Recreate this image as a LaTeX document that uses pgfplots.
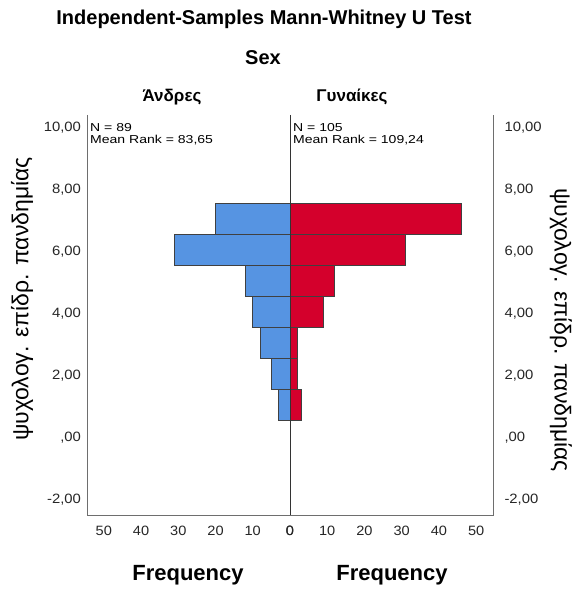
\documentclass[border=0pt]{standalone}
\usepackage{fontspec}
\setmainfont{Liberation Sans}
\usepackage{pgfplots}
\pgfplotsset{compat=1.18}
\definecolor{mblue}{RGB}{86,148,226}
\definecolor{fred}{RGB}{212,0,44}
\definecolor{framegray}{RGB}{110,110,110}
\begin{document}
\begin{tikzpicture}
\path[use as bounding box] (0pt,0pt) rectangle (575pt,589pt);
\pgfplotsset{
  panel/.style={
    scale only axis, width=203pt, height=400pt,
    xmin=0, xmax=54.5, ymin=-2.48, ymax=10.42,
    axis line style={draw=none},
    major tick length=0pt,
    xtick={0,10,...,50}, ytick={-2,0,...,10},
    xticklabel style={font=\fontsize{13.5}{15}\selectfont\addfontfeatures{FakeStretch=1.08}, color=black!85, yshift=-8pt},
    yticklabel style={font=\fontsize{13.5}{15}\selectfont\addfontfeatures{FakeStretch=1.1}, color=black!85},
    /pgf/number format/assume math mode=true,
    yticklabel={\pgfmathparse{abs(\tick)}\ifdim\pgfmathresult pt<0.001pt ,00\else\pgfmathprintnumber[fixed,fixed zerofill,precision=2,use comma]{\tick}\fi},
    xbar, bar width=1,
    clip=false,
  }
}
% Left panel (men)
\begin{axis}[panel, at={(290pt,74pt)}, anchor=south east, x dir=reverse,
  yticklabel pos=left, yticklabel style={xshift=-2.5pt}]
\addplot[fill=mblue, draw=black!75, line width=0.8pt] coordinates {
 (3,1.08) (5,2.08) (8,3.08) (10,4.08) (12,5.08) (31,6.08) (20,7.08)};
\draw[framegray, line width=0.9pt] (axis cs:54.5,10.42) -- (axis cs:54.5,-2.48) -- (axis cs:0,-2.48);
\end{axis}
% Right panel (women)
\begin{axis}[panel, at={(290pt,74pt)}, anchor=south west,
  yticklabel pos=right, yticklabel style={xshift=8pt}]
\addplot[fill=fred, draw=black!75, line width=0.8pt] coordinates {
 (3,1.08) (2,2.08) (2,3.08) (9,4.08) (12,5.08) (31,6.08) (46,7.08)};
\draw[framegray, line width=0.9pt] (axis cs:0,-2.48) -- (axis cs:54.5,-2.48) -- (axis cs:54.5,10.42);
\draw[black!80, line width=0.9pt] (axis cs:0,10.42) -- (axis cs:0,-2.48);
\end{axis}
% Titles
\node[anchor=base, font=\bfseries\fontsize{20}{24}\selectfont] at (264pt,564pt) {Independent-Samples Mann-Whitney U Test};
\node[anchor=base, font=\bfseries\fontsize{20}{24}\selectfont] at (263pt,524pt) {Sex};
\node[anchor=base, font=\bfseries\fontsize{17}{20}\selectfont] at (172pt,487pt) {Άνδρες};
\node[anchor=base, font=\bfseries\fontsize{17}{20}\selectfont] at (352pt,487pt) {Γυναίκες};
% Frequency labels
\node[anchor=base, font=\bfseries\fontsize{22}{26}\selectfont] at (188pt,8pt) {Frequency};
\node[anchor=base, font=\bfseries\fontsize{22}{26}\selectfont] at (392pt,8pt) {Frequency};
% N and mean rank
\node[anchor=base west, inner sep=0pt, font=\fontsize{11.5}{12}\selectfont\addfontfeatures{FakeStretch=1.22}] at (90pt,457pt) {N = 89};
\node[anchor=base west, inner sep=0pt, font=\fontsize{11.5}{12}\selectfont\addfontfeatures{FakeStretch=1.22}] at (90pt,445.5pt) {Mean Rank = 83,65};
\node[anchor=base west, inner sep=0pt, font=\fontsize{11.5}{12}\selectfont\addfontfeatures{FakeStretch=1.22}] at (293pt,457pt) {N = 105};
\node[anchor=base west, inner sep=0pt, font=\fontsize{11.5}{12}\selectfont\addfontfeatures{FakeStretch=1.22}] at (293pt,445.5pt) {Mean Rank = 109,24};
% y labels
\node[rotate=90, font=\fontsize{23}{27}\selectfont] at (22pt,290pt) {ψυχολογ. επίδρ. πανδημίας};
\node[rotate=-90, font=\fontsize{23}{27}\selectfont] at (561pt,259pt) {ψυχολογ. επίδρ. πανδημίας};
\end{tikzpicture}
\end{document}
